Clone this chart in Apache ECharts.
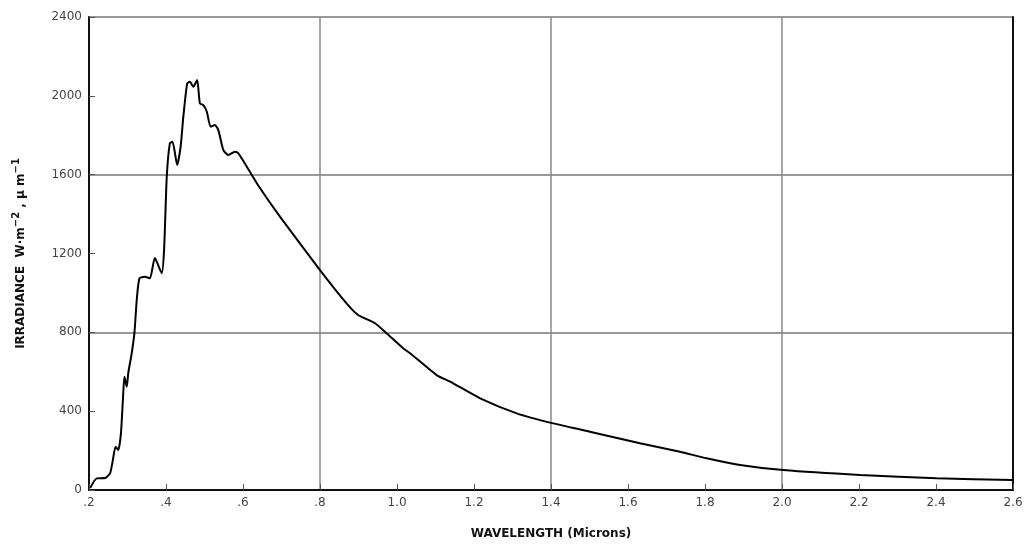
<!DOCTYPE html>
<html>
<head>
<meta charset="utf-8">
<script src="https://cdn.jsdelivr.net/npm/echarts@6/dist/echarts.min.js"></script>
<style>
  html, body { margin: 0; padding: 0; background: #fff; }
  #chart { width: 1028px; height: 546px; }
</style>
</head>
<body>
<div id="chart"></div>
<script>
// wavelength in microns
const wavelength = [
  0.203, 0.22, 0.242, 0.255, 0.262, 0.269, 0.276, 0.283, 0.289, 0.292, 0.298, 0.302,
  0.311, 0.318, 0.324, 0.331, 0.345, 0.358, 0.371, 0.389, 0.395, 0.402, 0.41, 0.417,
  0.429, 0.438, 0.445, 0.455, 0.462, 0.471, 0.481, 0.488, 0.497, 0.506, 0.516, 0.527,
  0.536, 0.549, 0.562, 0.579, 0.588, 0.61, 0.644, 0.696, 0.8, 0.869, 0.899, 0.943,
  0.973, 1.016, 1.034, 1.103, 1.138, 1.216, 1.311, 1.406, 1.501, 1.631, 1.735, 1.804,
  1.891, 2.003, 2.203, 2.402, 2.6
];
// irradiance W.m-2.um-1
const irradiance = [
  10, 59, 61, 86, 152, 220, 203, 289, 492, 575, 524, 593,
  695, 797, 964, 1074, 1082, 1074, 1177, 1100, 1218, 1590, 1759, 1767,
  1649, 1742, 1894, 2063, 2072, 2046, 2080, 1962, 1953, 1919, 1843, 1852,
  1826, 1725, 1700, 1716, 1708, 1640, 1532, 1387, 1116, 947, 888, 846,
  795, 719, 694, 583, 550, 465, 389, 338, 296, 237, 194, 161,
  127, 101, 76, 59, 51
];
const xTickLabels = ['.2', '.4', '.6', '.8', '1.0', '1.2', '1.4', '1.6', '1.8', '2.0', '2.2', '2.4', '2.6'];

const points = wavelength.map((w, i) => [w, irradiance[i]]);
const font = 'DejaVu Sans';

const chart = echarts.init(document.getElementById('chart'));
chart.setOption({
  animation: false,
  grid: { left: 89, right: 15, top: 17, bottom: 56 },
  xAxis: [
    {
      type: 'value',
      min: 0.2,
      max: 2.6,
      interval: 0.2,
      name: 'WAVELENGTH (Microns)',
      nameLocation: 'middle',
      nameGap: 38,
      nameTextStyle: { fontFamily: font, fontWeight: 'bold', fontSize: 12, color: '#111' },
      axisLine: { lineStyle: { color: '#111', width: 2 } },
      axisTick: { inside: true, length: 6, lineStyle: { color: '#555' } },
      axisLabel: {
        fontFamily: font, fontSize: 12, color: '#444', margin: 7,
        formatter: (v) => xTickLabels[Math.round((v - 0.2) / 0.2)]
      },
      splitLine: { show: false }
    },
    {
      // only for the coarse grid lines and the top border
      type: 'value',
      position: 'top',
      min: 0.2,
      max: 2.6,
      interval: 0.6,
      axisLine: { show: true, lineStyle: { color: '#111', width: 2 } },
      axisTick: { show: false },
      axisLabel: { show: false },
      splitLine: { show: true, lineStyle: { color: '#888', width: 1.5 } }
    }
  ],
  yAxis: [
    {
      type: 'value',
      min: 0,
      max: 2400,
      interval: 400,
      name: '{b|IRRADIANCE  W·m}{s|−2}{b| , μ m}{s|−1}',
      nameLocation: 'middle',
      nameGap: 62,
      nameTextStyle: {
        fontFamily: font, fontWeight: 'bold', fontSize: 12, color: '#111',
        rich: {
          b: { fontFamily: font, fontWeight: 'bold', fontSize: 12, color: '#111', lineHeight: 16, verticalAlign: 'bottom' },
          s: { fontFamily: font, fontWeight: 'bold', fontSize: 10, color: '#111', lineHeight: 16, verticalAlign: 'top', padding: [0, 0, 6, 0] }
        }
      },
      axisLine: { show: true, lineStyle: { color: '#111', width: 2 } },
      axisTick: { show: true, inside: true, length: 6, lineStyle: { color: '#555' } },
      axisLabel: {
        fontFamily: font, fontSize: 12, color: '#444', margin: 7,
        formatter: (v) => String(v)
      },
      splitLine: { show: false }
    },
    {
      type: 'value',
      position: 'right',
      min: 0,
      max: 2400,
      interval: 800,
      axisLine: { show: true, lineStyle: { color: '#111', width: 2 } },
      axisTick: { show: false },
      axisLabel: { show: false },
      splitLine: { show: true, lineStyle: { color: '#777', width: 1.5 } }
    }
  ],
  series: [
    {
      type: 'line',
      data: points,
      showSymbol: false,
      smooth: 0.2,
      lineStyle: { color: '#000', width: 2 },
      z: 5
    }
  ]
});
</script>
</body>
</html>
